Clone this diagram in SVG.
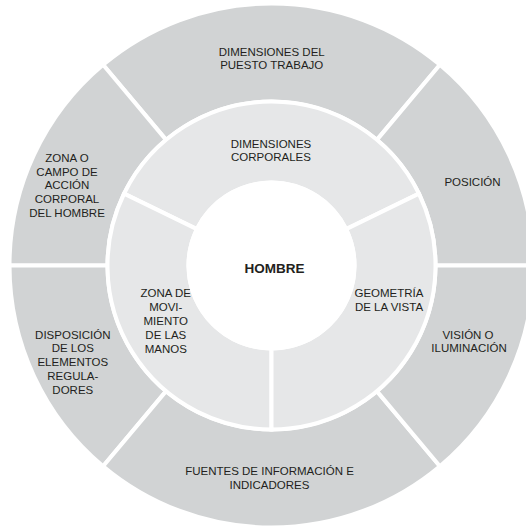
<svg xmlns="http://www.w3.org/2000/svg" width="526" height="529" viewBox="0 0 526 529">
<style>
.outer{fill:#d1d3d4;stroke:#ffffff;stroke-width:4;stroke-linejoin:miter}
.inner{fill:#e6e7e8;stroke:#ffffff;stroke-width:4;stroke-linejoin:miter}
.t{font-family:"Liberation Sans",Arial,sans-serif;font-size:11.5px;fill:#231f20;text-anchor:middle}
.b{font-family:"Liberation Sans",Arial,sans-serif;font-size:13.5px;font-weight:bold;fill:#231f20;text-anchor:middle}
</style>
<rect width="526" height="529" fill="#ffffff"/>
<g id="connectors"/>
<g id="puesto-trabajo">
<path class="outer" d="M 439.91 64.80 A 262 262 0 0 0 103.09 64.80 L 166.08 139.87 A 164 164 0 0 1 376.92 139.87 Z"/>
<text class="t" x="271.7" y="55.5">DIMENSIONES DEL</text>
<text class="t" x="271.7" y="69">PUESTO TRABAJO</text>
</g>
<g id="posicion">
<path class="outer" d="M 533.5 265.5 A 262 262 0 0 0 439.91 64.80 L 376.92 139.87 A 164 164 0 0 1 435.5 265.5 Z"/>
<text class="t" x="472.5" y="186">POSICIÓN</text>
</g>
<g id="zona-campo">
<path class="outer" d="M 103.09 64.80 A 262 262 0 0 0 9.5 265.5 L 107.5 265.5 A 164 164 0 0 1 166.08 139.87 Z"/>
<text class="t" x="67" y="161.5">ZONA O</text>
<text class="t" x="67" y="175.5">CAMPO DE</text>
<text class="t" x="67" y="189.3">ACCIÓN</text>
<text class="t" x="67" y="203.2">CORPORAL</text>
<text class="t" x="67" y="217.2">DEL HOMBRE</text>
</g>
<g id="disposicion">
<path class="outer" d="M 9.5 265.5 A 262 262 0 0 0 103.09 466.20 L 166.08 391.13 A 164 164 0 0 1 107.5 265.5 Z"/>
<text class="t" x="72.8" y="338.5">DISPOSICIÓN</text>
<text class="t" x="72.8" y="352.3">DE LOS</text>
<text class="t" x="72.8" y="366">ELEMENTOS</text>
<text class="t" x="72.8" y="380">REGULA-</text>
<text class="t" x="72.8" y="394">DORES</text>
</g>
<g id="fuentes">
<path class="outer" d="M 103.09 466.20 A 262 262 0 0 0 439.91 466.20 L 376.92 391.13 A 164 164 0 0 1 166.08 391.13 Z"/>
<text class="t" x="269.5" y="475">FUENTES DE INFORMACIÓN E</text>
<text class="t" x="269.5" y="488.7">INDICADORES</text>
</g>
<g id="vision">
<path class="outer" d="M 439.91 466.20 A 262 262 0 0 0 533.5 265.5 L 435.5 265.5 A 164 164 0 0 1 376.92 391.13 Z"/>
<text class="t" x="468" y="338.5">VISIÓN O</text>
<text class="t" x="469" y="351.7">ILUMINACIÓN</text>
</g>
<g id="dimensiones-corporales">
<path class="inner" d="M 418.90 193.61 A 164 164 0 0 0 124.10 193.61 L 196.90 229.12 A 83 83 0 0 1 346.10 229.12 Z"/>
<text class="t" x="271" y="147.5">DIMENSIONES</text>
<text class="t" x="271" y="160.7">CORPORALES</text>
</g>
<g id="zona-movimiento">
<path class="inner" d="M 124.10 193.61 A 164 164 0 0 0 271.5 429.5 L 271.5 348.5 A 83 83 0 0 1 196.90 229.12 Z"/>
<text class="t" x="165.8" y="297.3">ZONA DE</text>
<text class="t" x="165.8" y="311">MOVI-</text>
<text class="t" x="165.8" y="325">MIENTO</text>
<text class="t" x="165.8" y="339">DE LAS</text>
<text class="t" x="165.8" y="353.3">MANOS</text>
</g>
<g id="geometria-vista">
<path class="inner" d="M 271.5 429.5 A 164 164 0 0 0 418.90 193.61 L 346.10 229.12 A 83 83 0 0 1 271.5 348.5 Z"/>
<text class="t" x="389" y="297.3">GEOMETRÍA</text>
<text class="t" x="389" y="311">DE LA VISTA</text>
</g>
<g id="hombre">
<circle cx="271.5" cy="265.5" r="85" fill="#ffffff"/>
<text class="b" x="274.5" y="272.7">HOMBRE</text>
</g>
</svg>
